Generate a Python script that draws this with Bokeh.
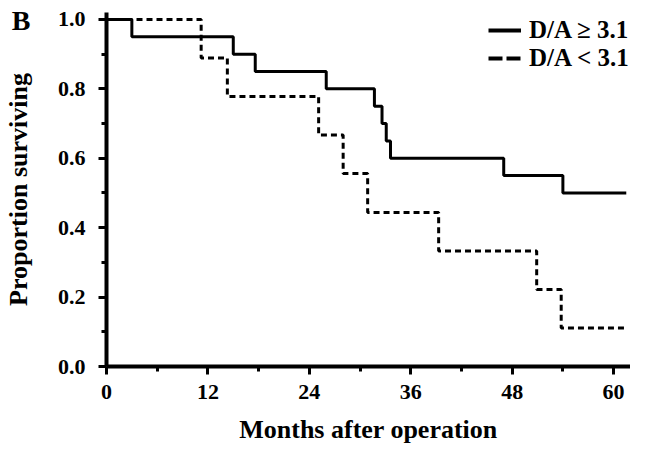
from bokeh.plotting import figure
from bokeh.models import Range1d, FixedTicker, NumeralTickFormatter, Legend, LegendItem, LinearAxis
from bokeh.embed import file_html
from bokeh.resources import INLINE

# Kaplan-Meier step data (months, proportion surviving)
high_t = [0, 3, 15, 17.6, 26, 31.7, 32.6, 33.1, 33.6, 47, 54, 61.5]
high_s = [1.0, 0.95, 0.90, 0.85, 0.80, 0.75, 0.70, 0.65, 0.60, 0.55, 0.50, 0.50]
low_t = [0, 11.2, 14.3, 25.1, 28.0, 30.9, 39.3, 50.9, 53.8, 61.3]
low_s = [1.0, 0.889, 0.778, 0.667, 0.556, 0.444, 0.333, 0.222, 0.111, 0.111]

x_ticks = [0, 12, 24, 36, 48, 60]
x_minor = [6, 18, 30, 42, 54]
y_ticks = [0.0, 0.2, 0.4, 0.6, 0.8, 1.0]
y_minor = [0.1, 0.3, 0.5, 0.7, 0.9]

labels = ["D/A \u2265 3.1", "D/A < 3.1"]
panel_letter = "B"
nan = float("nan")

FONT = "Liberation Serif"

p = figure(width=630, height=442, output_backend="svg", toolbar_location=None,
           x_range=Range1d(0, 62), y_range=Range1d(0, 1.02),
           min_border_left=96, min_border_right=0, min_border_top=8, min_border_bottom=78)
p.margin = (4, 0, 0, 0)
p.outline_line_color = None
p.grid.visible = False

r1 = p.step(high_t, high_s, mode="after", line_color="black", line_width=3)
r2 = p.step(low_t, low_s, mode="after", line_color="black", line_width=3, line_dash="6 4")

# legend samples
l1 = p.line([nan, nan], [nan, nan], line_color="black", line_width=4)
l2 = p.line([nan, nan], [nan, nan], line_color="black", line_width=4, line_dash="14 4")

for ax in (p.xaxis[0], p.yaxis[0]):
    ax.axis_line_color = "black"
    ax.axis_line_width = 4
    ax.major_tick_line_color = "black"
    ax.minor_tick_line_color = "black"
    ax.major_tick_line_width = 3
    ax.minor_tick_line_width = 3
    ax.major_tick_out = 8
    ax.major_tick_in = 0
    ax.minor_tick_out = 5
    ax.minor_tick_in = 0
    ax.major_label_text_font = FONT
    ax.major_label_text_font_style = "bold"
    ax.major_label_text_font_size = "22px"
    ax.major_label_text_color = "black"
    ax.axis_label_text_font = FONT
    ax.axis_label_text_font_style = "bold"
    ax.axis_label_text_font_size = "26px"
    ax.axis_label_text_color = "black"

p.xaxis.ticker = FixedTicker(ticks=x_ticks, minor_ticks=x_minor)
p.yaxis.ticker = FixedTicker(ticks=y_ticks, minor_ticks=y_minor)
p.yaxis.formatter = NumeralTickFormatter(format="0.0")
p.xaxis.axis_label = "Months after operation"
p.yaxis.axis_label = "Proportion surviving"
p.xaxis.major_label_standoff = 10
p.yaxis.major_label_standoff = 13
p.xaxis.axis_label_standoff = 13
p.yaxis.axis_label_standoff = 22

# panel letter as an extra (invisible) axis carrying one label at the top
letter_axis = LinearAxis(ticker=FixedTicker(ticks=[1.0], minor_ticks=[]),
                         major_label_overrides={1.0: panel_letter},
                         axis_line_color=None, major_tick_line_color=None,
                         minor_tick_line_color=None,
                         major_tick_out=0, major_tick_in=0,
                         major_label_standoff=-30,
                         major_label_text_font=FONT, major_label_text_font_style="bold",
                         major_label_text_font_size="28px", major_label_text_color="black")
p.add_layout(letter_axis, "left")

legend = Legend(items=[LegendItem(label=labels[0], renderers=[l1]),
                       LegendItem(label=labels[1], renderers=[l2])],
                location=(382, 294), orientation="vertical",
                glyph_width=33, glyph_height=20, label_height=20, label_standoff=8,
                spacing=0, padding=0, margin=0,
                border_line_alpha=0, background_fill_alpha=0,
                label_text_font=FONT, label_text_font_style="bold",
                label_text_font_size="25px", label_text_color="black")
p.add_layout(legend)

open("out.html", "w").write(file_html(p, INLINE))
